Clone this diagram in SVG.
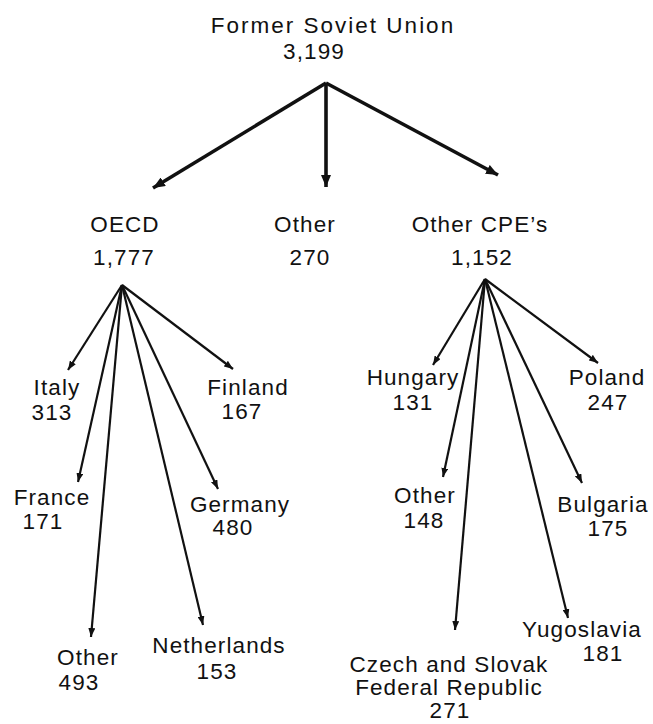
<svg xmlns="http://www.w3.org/2000/svg" width="653" height="724" viewBox="0 0 653 724">
<style>
text{font-family:"Liberation Sans",Arial,sans-serif;font-size:22.5px;fill:#111;text-anchor:middle;letter-spacing:1.1px}
.top{letter-spacing:2px}
.thick{stroke:#111;stroke-width:3.6;fill:none}
.thin{stroke:#111;stroke-width:2.2;fill:none}
</style>
<defs>
<marker id="ah-big" viewBox="0 0 12 10" refX="12" refY="5" markerWidth="12" markerHeight="10" markerUnits="userSpaceOnUse" orient="auto">
<path d="M0,0 L12,5 L0,10 z" fill="#111"/>
</marker>
<marker id="ah" viewBox="0 0 9 7" refX="9" refY="3.5" markerWidth="9" markerHeight="7" markerUnits="userSpaceOnUse" orient="auto">
<path d="M0,0 L9,3.5 L0,7 z" fill="#111"/>
</marker>
</defs>
<rect width="653" height="724" fill="#fff"/>
<g id="connectors">
<line class="thick" x1="326" y1="83" x2="153" y2="188" marker-end="url(#ah-big)"/>
<line class="thick" x1="326" y1="83" x2="326" y2="187" marker-end="url(#ah-big)"/>
<line class="thick" x1="326" y1="83" x2="498" y2="175" marker-end="url(#ah-big)"/>
<line class="thin" x1="122" y1="285" x2="68" y2="370" marker-end="url(#ah)"/>
<line class="thin" x1="122" y1="285" x2="78" y2="482" marker-end="url(#ah)"/>
<line class="thin" x1="122" y1="285" x2="91" y2="637" marker-end="url(#ah)"/>
<line class="thin" x1="122" y1="285" x2="203" y2="625" marker-end="url(#ah)"/>
<line class="thin" x1="122" y1="285" x2="218" y2="489" marker-end="url(#ah)"/>
<line class="thin" x1="122" y1="285" x2="233" y2="369" marker-end="url(#ah)"/>
<line class="thin" x1="485" y1="279" x2="433" y2="365" marker-end="url(#ah)"/>
<line class="thin" x1="485" y1="279" x2="443" y2="477" marker-end="url(#ah)"/>
<line class="thin" x1="485" y1="279" x2="455" y2="630" marker-end="url(#ah)"/>
<line class="thin" x1="485" y1="279" x2="568" y2="618" marker-end="url(#ah)"/>
<line class="thin" x1="485" y1="279" x2="582" y2="483" marker-end="url(#ah)"/>
<line class="thin" x1="485" y1="279" x2="598" y2="363" marker-end="url(#ah)"/>
</g>
<g id="fsu"><text class="top" x="333" y="33">Former Soviet Union</text><text x="314" y="59">3,199</text></g>
<g id="oecd"><text x="125" y="232">OECD</text><text x="124" y="265">1,777</text></g>
<g id="other-top"><text x="305" y="232">Other</text><text x="310" y="265">270</text></g>
<g id="cpe"><text x="480" y="232">Other CPE’s</text><text x="482" y="265">1,152</text></g>
<g id="italy"><text x="57" y="395">Italy</text><text x="52" y="420">313</text></g>
<g id="finland"><text x="248" y="395">Finland</text><text x="242" y="419">167</text></g>
<g id="france"><text x="52" y="505">France</text><text x="43" y="529">171</text></g>
<g id="germany"><text x="240" y="512">Germany</text><text x="233" y="535">480</text></g>
<g id="other-oecd"><text x="88" y="665">Other</text><text x="79" y="690">493</text></g>
<g id="netherlands"><text x="219" y="653">Netherlands</text><text x="217" y="679">153</text></g>
<g id="hungary"><text x="413" y="385">Hungary</text><text x="413" y="410">131</text></g>
<g id="poland"><text x="607" y="385">Poland</text><text x="608" y="410">247</text></g>
<g id="other-cpe"><text x="425" y="503">Other</text><text x="424" y="528">148</text></g>
<g id="bulgaria"><text x="603" y="512">Bulgaria</text><text x="608" y="536">175</text></g>
<g id="yugoslavia"><text x="582" y="637">Yugoslavia</text><text x="603" y="661">181</text></g>
<g id="czech"><text x="449" y="672">Czech and Slovak</text><text x="449" y="695">Federal Republic</text><text x="450" y="718">271</text></g>
</svg>
